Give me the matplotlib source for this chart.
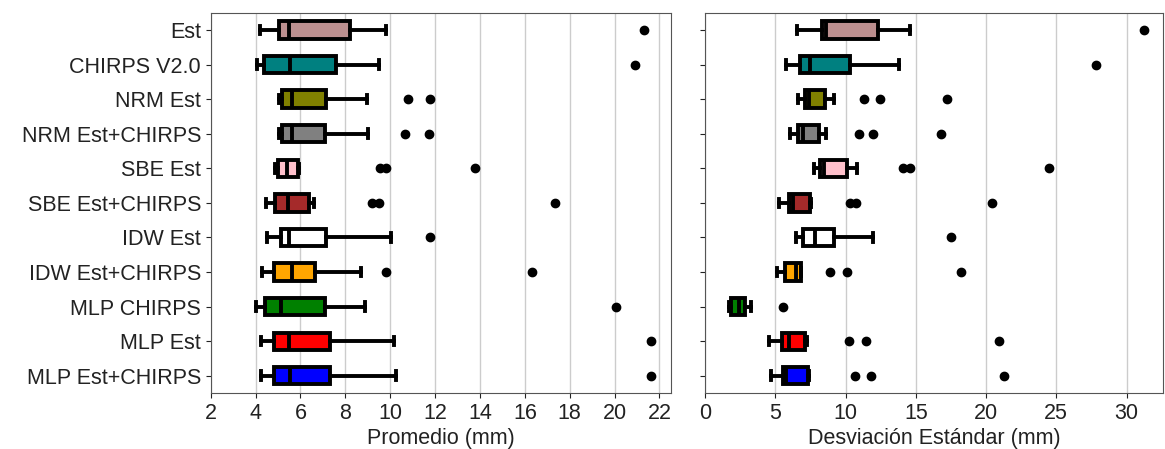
import matplotlib
matplotlib.use("Agg")
import matplotlib.pyplot as plt

plt.rcParams['font.family'] = ['Liberation Sans', 'DejaVu Sans']

labels = ["Est", "CHIRPS V2.0", "NRM Est", "NRM Est+CHIRPS", "SBE Est",
          "SBE Est+CHIRPS", "IDW Est", "IDW Est+CHIRPS", "MLP CHIRPS",
          "MLP Est", "MLP Est+CHIRPS"]
colors = ["#bc8f8f", "#008080", "#808000", "#808080", "#ffc0cb",
          "#a52a2a", "#ffffff", "#ffa500", "#008000", "#ff0000", "#0000ff"]

# Promedio (mm): whisker low, q1, median, q3, whisker high, outliers
mean_lo = [4.20, 4.05, 5.03, 5.03, 4.85, 4.45, 4.52, 4.27, 4.02, 4.25, 4.25]
mean_q1 = [5.02, 4.38, 5.17, 5.17, 5.00, 4.85, 5.12, 4.82, 4.42, 4.82, 4.82]
mean_med = [5.51, 5.54, 5.64, 5.61, 5.42, 5.46, 5.49, 5.61, 5.15, 5.49, 5.54]
mean_q3 = [8.21, 7.57, 7.13, 7.10, 5.91, 6.40, 7.14, 6.65, 7.10, 7.32, 7.32]
mean_hi = [9.80, 9.50, 8.98, 9.01, 5.92, 6.62, 10.02, 8.69, 8.87, 10.17, 10.26]
mean_out = [[21.33], [20.92], [10.78, 11.75], [10.66, 11.72],
            [9.55, 9.79, 13.78], [9.18, 9.52, 17.36], [11.75],
            [9.79, 16.34], [20.08], [21.62], [21.62]]

# Desviacion estandar (mm)
std_lo = [6.54, 5.78, 6.61, 6.04, 7.73, 5.26, 6.45, 5.14, 1.71, 4.55, 4.67]
std_q1 = [8.32, 6.73, 7.09, 6.59, 8.15, 5.97, 6.97, 5.66, 1.85, 5.43, 5.50]
std_med = [8.63, 7.44, 7.37, 6.97, 8.46, 6.25, 7.82, 6.45, 2.40, 5.93, 5.78]
std_q3 = [12.30, 10.28, 8.56, 8.11, 10.07, 7.49, 9.15, 6.80, 2.82, 7.13, 7.32]
std_hi = [14.60, 13.79, 9.17, 8.63, 10.80, 7.52, 11.94, 6.85, 3.27, 7.25, 7.37]
std_out = [[31.25], [27.84], [11.33, 12.46, 17.23], [10.92, 11.97, 16.82],
           [14.07, 14.60, 24.50], [10.31, 10.76, 20.40], [17.48],
           [8.89, 10.09, 18.20], [5.50], [10.21, 11.47, 20.95],
           [10.66, 11.83, 21.30]]


def make_stats(lo, q1, med, q3, hi, out):
    stats = []
    for i in range(len(labels)):
        stats.append(dict(whislo=lo[i], q1=q1[i], med=med[i], q3=q3[i],
                          whishi=hi[i], fliers=out[i], label=labels[i]))
    return stats


def draw(ax, stats):
    n = len(stats)
    positions = list(range(n, 0, -1))
    bp = ax.bxp(stats, positions=positions, vert=False, widths=0.5,
                patch_artist=True, showfliers=True,
                boxprops=dict(linewidth=2.8, edgecolor="black"),
                whiskerprops=dict(linewidth=2.8, color="black"),
                capprops=dict(linewidth=2.8, color="black"),
                medianprops=dict(linewidth=2.8, color="black"),
                flierprops=dict(marker="o", markerfacecolor="black",
                                markeredgecolor="black", markersize=6))
    for patch, c in zip(bp["boxes"], colors):
        patch.set_facecolor(c)
    ax.set_ylim(0.5, n + 0.5)
    ax.grid(axis="x", color="#cccccc", linewidth=1)
    ax.set_axisbelow(True)
    for s in ax.spines.values():
        s.set_color("#555555")
    ax.tick_params(labelsize=15.5, colors="#222222", labelcolor="#222222")


fig = plt.figure(figsize=(11.65, 4.49), dpi=100)
ax1 = fig.add_axes([0.1809, 0.1247, 0.3948, 0.847])
ax2 = fig.add_axes([0.6054, 0.1247, 0.3929, 0.847])

draw(ax1, make_stats(mean_lo, mean_q1, mean_med, mean_q3, mean_hi, mean_out))
ax1.set_xlim(2, 22.5)
ax1.set_xticks(range(2, 23, 2))
ax1.set_xlabel("Promedio (mm)", fontsize=15.5, labelpad=3, color="#222222")

draw(ax2, make_stats(std_lo, std_q1, std_med, std_q3, std_hi, std_out))
ax2.set_xlim(0, 32.6)
ax2.set_xticks(range(0, 31, 5))
ax2.set_yticklabels([])
ax2.set_xlabel("Desviación Estándar (mm)", fontsize=15.5, labelpad=3,
               color="#222222")

fig.savefig("out.png", dpi=100)
